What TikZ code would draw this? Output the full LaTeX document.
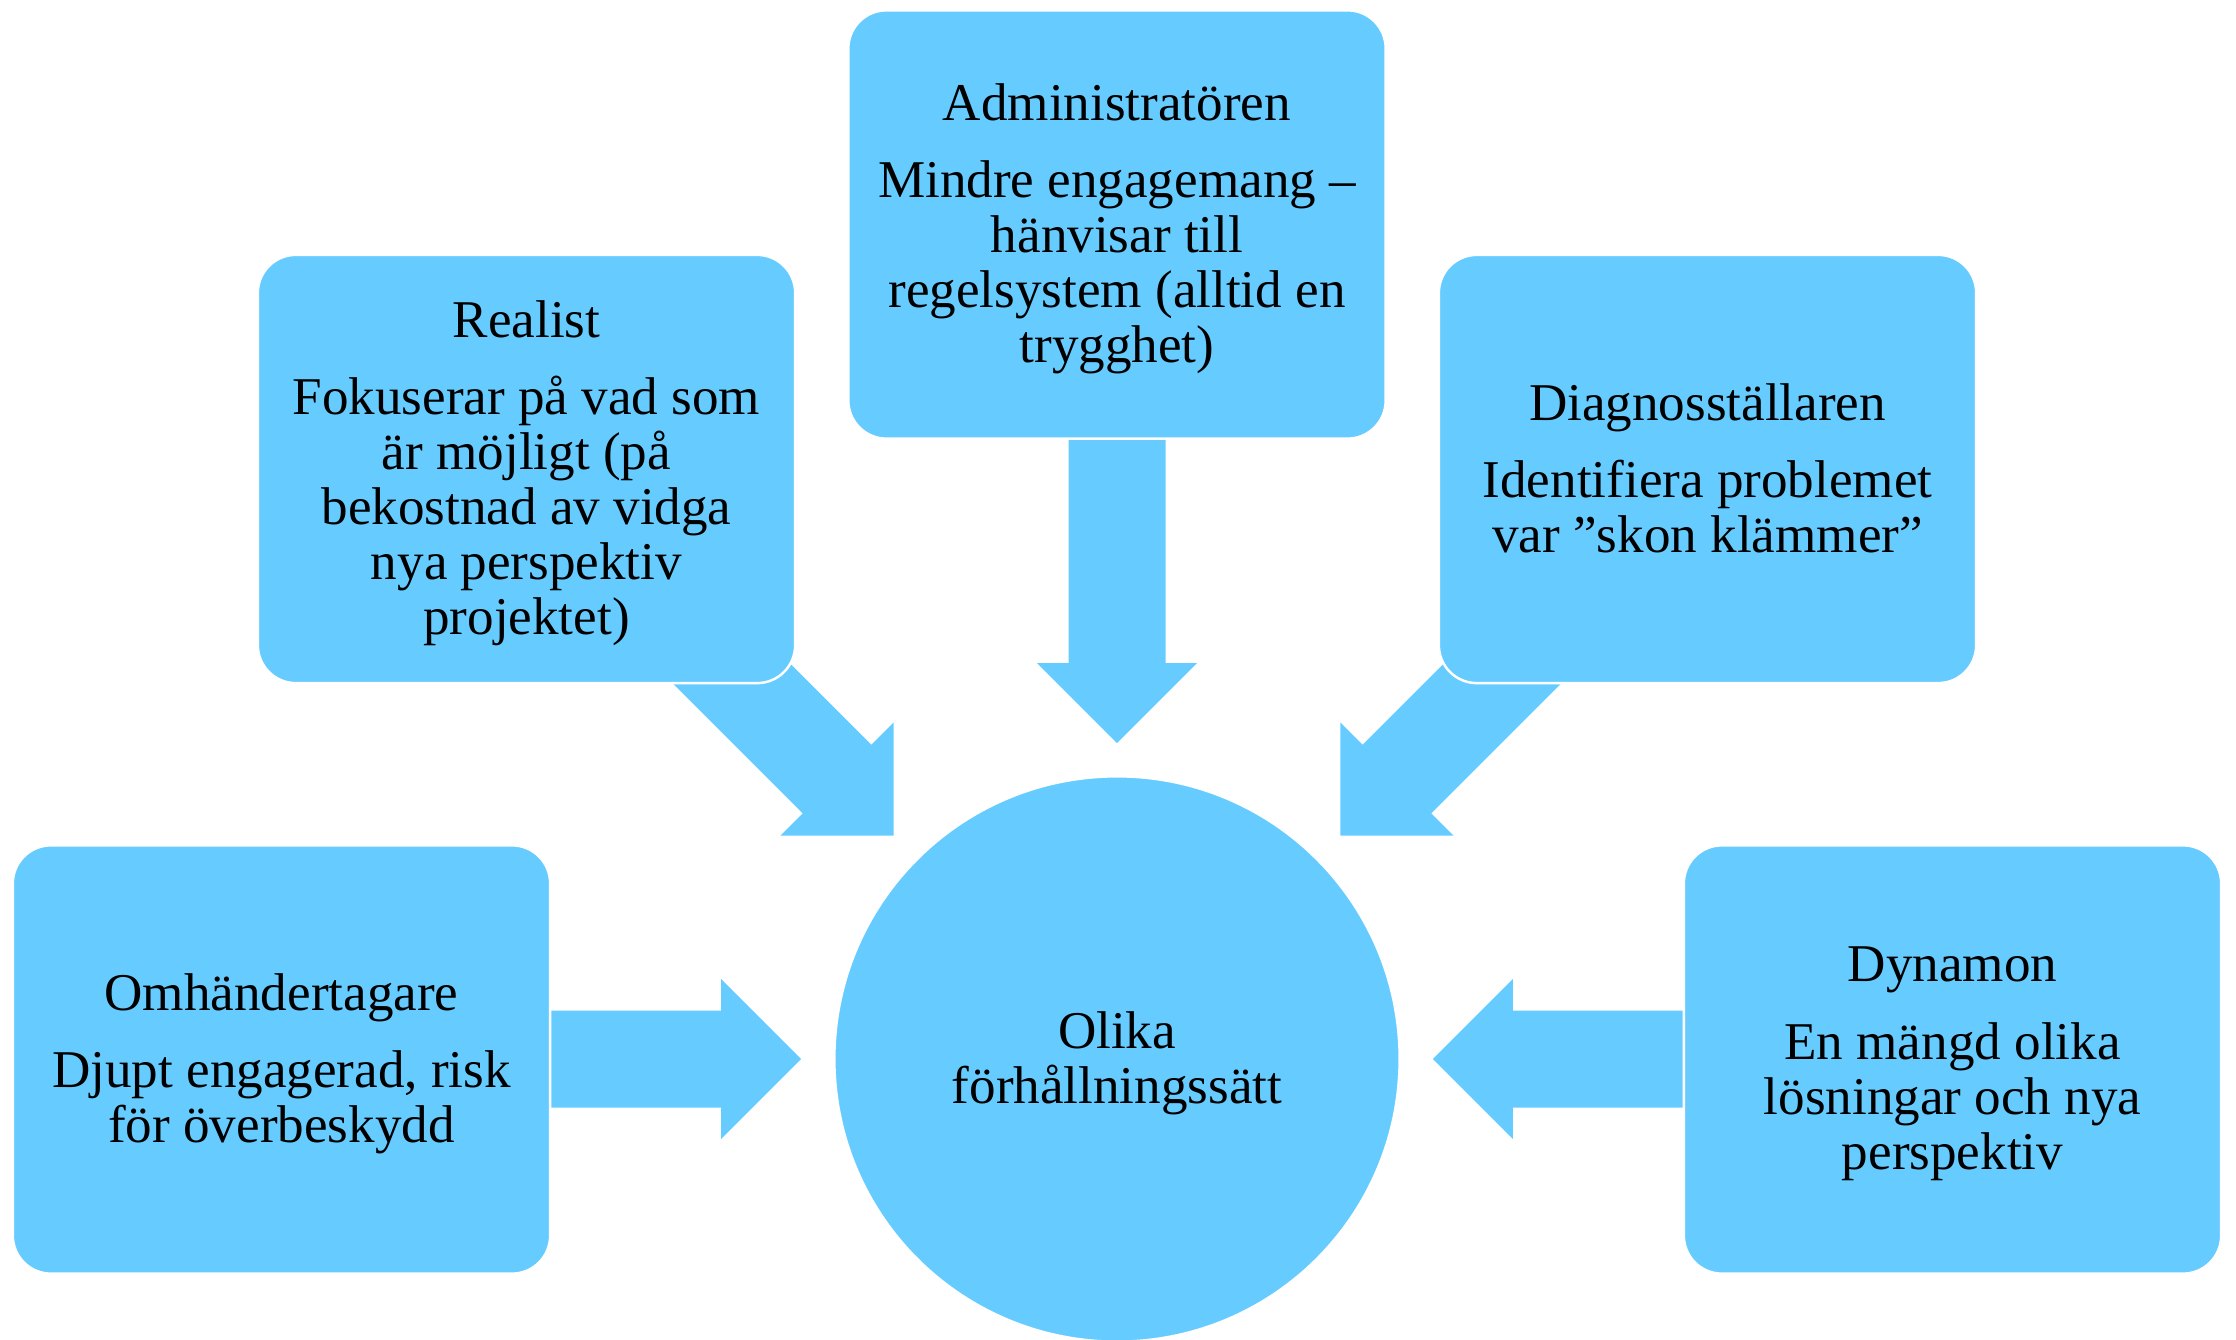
\documentclass[tikz,border=0pt]{standalone}
\usepackage{fontspec}
\setmainfont{Liberation Serif}
\usetikzlibrary{calc}
\definecolor{sky}{HTML}{66CCFF}
\newcommand\blockarrow[3]{%
  \begin{scope}[shift={#1}, rotate=#2, x=0.01cm, y=0.01cm]
    \fill[sky] (0,0) -- (-80,80) -- (-80,48.5) -- (-#3,48.5) -- (-#3,-48.5) -- (-80,-48.5) -- (-80,-80) -- cycle;
  \end{scope}}
\begin{document}
\begin{tikzpicture}[x=0.01cm, y=-0.01cm,
  box/.style={draw=white, line width=0.7pt, fill=sky, rounded corners=0.38cm,
    minimum width=5.37cm, minimum height=4.28cm, inner sep=0pt},
  hub/.style={circle, draw=white, line width=0.7pt, fill=sky, minimum size=5.65cm, inner sep=0pt},
  txt/.style={font=\fontsize{15.1pt}{15.65pt}\selectfont, align=center, inner sep=0pt, anchor=north}]
\useasboundingbox (0,0) rectangle (2236,1340);
% hub first (only for anchors), drawn again later on top
\node[hub] (hub) at (1117,1059) {};
% arrows
\coordinate (tA) at ($(hub.north)!-0.32cm!(hub.center)$);
\coordinate (tR) at ($(hub.135)!-0.32cm!(hub.center)$);
\coordinate (tD) at ($(hub.45)!-0.32cm!(hub.center)$);
\coordinate (tO) at ($(hub.west)!-0.32cm!(hub.center)$);
\coordinate (tY) at ($(hub.east)!-0.32cm!(hub.center)$);
\blockarrow{(tA)}{-90}{305}
\blockarrow{(tR)}{-45}{305}
\blockarrow{(tD)}{-135}{305}
\blockarrow{(tO)}{0}{250}
\blockarrow{(tY)}{180}{250}
% boxes
\node[box] (admin) at (1117,224.5) {};
\node[box] (realist) at (526.5,469) {};
\node[box] (diag) at (1707.5,469) {};
\node[box] (omh) at (281.5,1059.5) {};
\node[box] (dyn) at (1952.5,1059.5) {};
\node[hub] (hubtop) at (hub.center) {};
% texts
\node[txt] (admintxt) at (1117,83) {Administratören\\[6.3pt]Mindre engagemang –\\hänvisar till\\regelsystem (alltid en\\trygghet)};
\node[txt] (realisttxt) at (526.5,300) {Realist\\[6.3pt]Fokuserar på vad som\\är möjligt (på\\bekostnad av vidga\\nya perspektiv\\projektet)};
\node[txt] (diagtxt) at (1707.5,382.5) {Diagnosställaren\\[6.3pt]Identifiera problemet\\var ”skon klämmer”};
\node[txt] (omhtxt) at (281.5,973) {Omhändertagare\\[6.3pt]Djupt engagerad, risk\\för överbeskydd};
\node[txt] (dyntxt) at (1952.5,946.5) {Dynamon\\[6.3pt]En mängd olika\\lösningar och nya\\perspektiv};
\node[txt] (hubtxt) at (1117,1011) {Olika\\förhållningssätt};
\end{tikzpicture}
\end{document}
